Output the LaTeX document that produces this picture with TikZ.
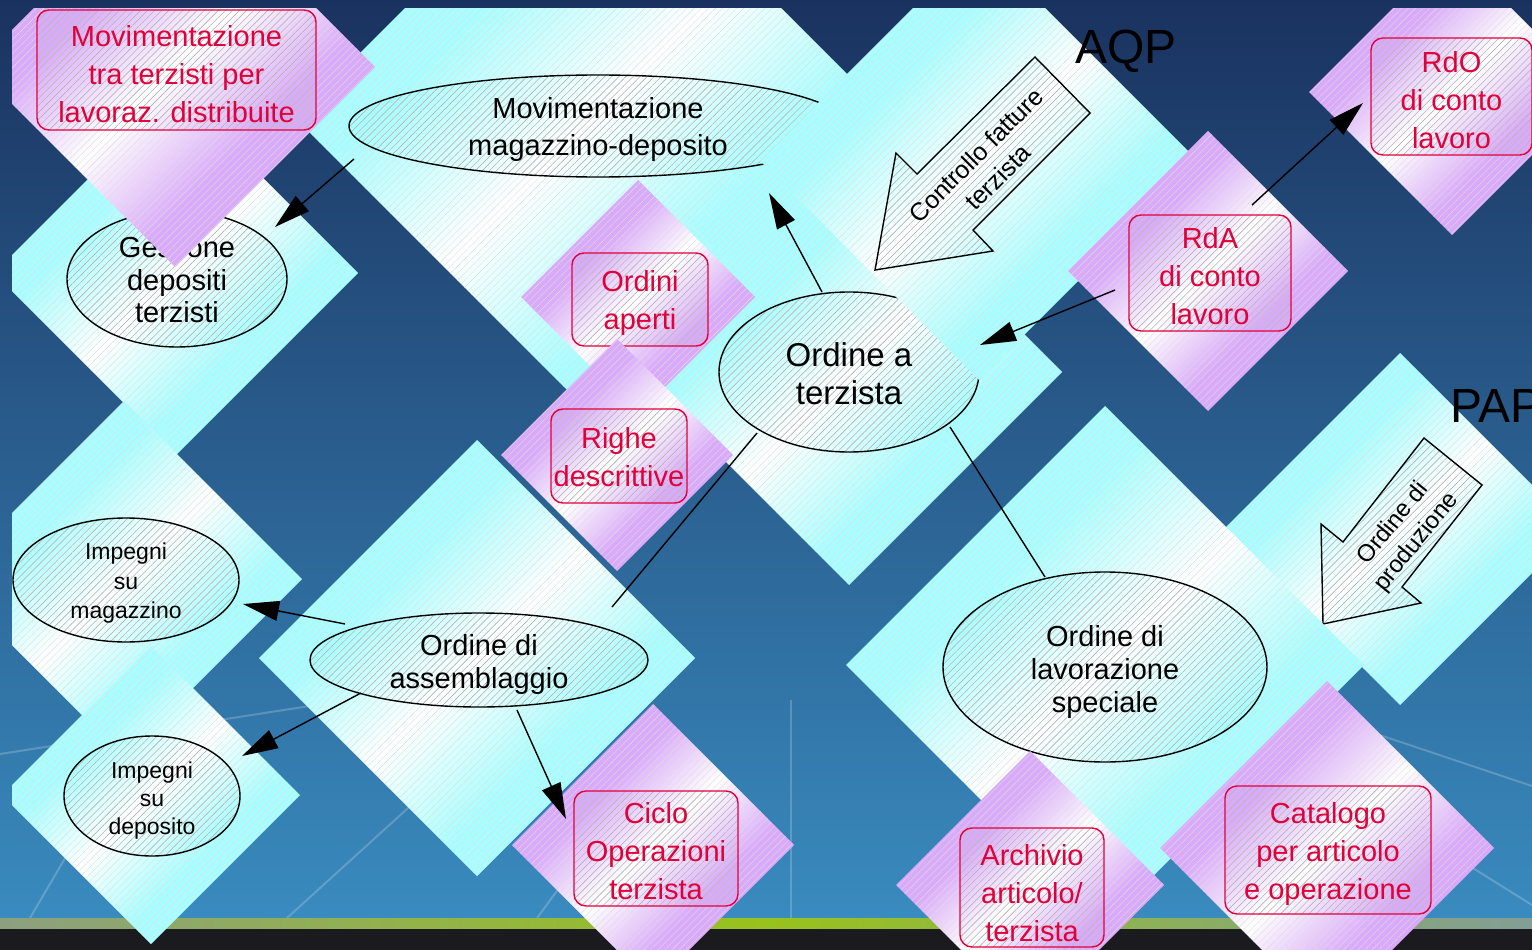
\documentclass[tikz,border=0pt]{standalone}
\usepackage{fontspec}
\setmainfont{Liberation Sans}
\usetikzlibrary{shapes.geometric,arrows.meta,patterns.meta}
\definecolor{cyc}{RGB}{168,255,255}
\definecolor{puc}{RGB}{218,170,250}
\definecolor{redc}{RGB}{226,0,58}
\definecolor{bgtop}{RGB}{26,50,95}
\definecolor{bgbot}{RGB}{58,140,192}
\definecolor{barc}{RGB}{27,26,31}
\definecolor{grl}{RGB}{140,160,128}
\definecolor{grm}{RGB}{152,194,28}
\definecolor{grr}{RGB}{130,158,150}
\pgfdeclareverticalshading{cyshade}{100bp}{color(0bp)=(cyc); color(37bp)=(cyc); color(50bp)=(white); color(63bp)=(cyc); color(100bp)=(cyc)}
\pgfdeclareverticalshading{pushade}{100bp}{color(0bp)=(puc); color(37bp)=(puc); color(50bp)=(white); color(63bp)=(puc); color(100bp)=(puc)}
\newcommand\fsR{\fontsize{29}{38}\selectfont}
\tikzset{
  hatchfine/.style={pattern={Lines[angle=45,distance=5pt,line width=0.4pt]}, pattern color=black!13},
  hatchdark/.style={pattern={Lines[angle=45,distance=5pt,line width=0.45pt]}, pattern color=black!32},
  diabase/.style={diamond, aspect=1, inner sep=0pt, outer sep=0pt, minimum size=#1, shade, shading angle=45, postaction={hatchfine}},
  cdia/.style={diabase=#1, shading=cyshade},
  pdia/.style={diabase=#1, shading=pushade},
  ell/.style={ellipse, draw=black, line width=1.4pt, inner sep=0pt, outer sep=0pt, preaction={hatchdark}},
  rbox/.style={rectangle, rounded corners=12pt, draw=redc, line width=1.4pt, inner sep=0pt, outer sep=0pt, preaction={hatchdark}},
  etxt/.style={align=center, inner sep=0pt, text=black},
  rtxt/.style={align=center, inner sep=0pt, text=redc, font=\fsR},
  conn/.style={line width=1.4pt, -{Triangle[length=36pt,width=20pt]}},
  plainline/.style={line width=1.4pt},
  bigarrow/.style={draw=black, line width=1.4pt, line join=miter, preaction={hatchdark}},
}
\begin{document}
\begin{tikzpicture}[x=1pt,y=-1pt]
\useasboundingbox (0,0) rectangle (1532,950);
\shade[top color=bgtop, bottom color=bgbot] (0,0) rectangle (1532,930);
\begin{scope}[white, opacity=0.2, line width=2pt]
 \draw (0,754) -- (600,661);
 \draw (30,918) -- (190,645);
 \draw (287,918) -- (560,670);
 \draw (537,918) -- (640,778);
 \draw (791,918) -- (791,700);
 \draw (1000,608) -- (1532,786);
 \draw (1300,760) -- (1532,905);
\end{scope}
\shade[left color=grl, right color=grr, middle color=grm] (0,918) rectangle (1532,929);
\fill[barc] (0,929) rectangle (1532,950);
\begin{scope}
\clip (12,9) rectangle (1532,950);
\node[cdia=596pt] (dB) at (593,118) {};
\node[ell, minimum width=498pt, minimum height=102pt] (nB) at (598,126) {};
\node[etxt, font=\fontsize{29}{37}\selectfont] (tB) at ([yshift=-4pt]nB.center) {Movimentazione\\magazzino-deposito};
\node[cdia=426pt] (dD) at (849,372) {};
\node[ell, minimum width=260pt, minimum height=160pt] (nD) at (849,372) {};
\node[etxt, font=\fontsize{33}{38}\selectfont] (tD) at ([yshift=-2pt]nD.center) {Ordine a\\terzista};
\node[cdia=438pt] (dC) at (979,161) {};
\path[bigarrow] (1035,57) -- (1090,113) -- (973,230) -- (993,251) -- (875,270) -- (896,153) -- (917,174) -- cycle;
\node[rotate=45, etxt, font=\fontsize{25}{31}\selectfont] (tC) at (987,166) {Controllo fatture\\terzista};
\node[pdia=234pt] (dOA) at (638,297) {};
\node[rbox, minimum width=136pt, minimum height=93pt] (nOA) at (640,299.5) {};
\node[rtxt] (tOA) at ([yshift=-3pt]nOA.center) {Ordini\\aperti};
\node[pdia=232pt] (dRD) at (617,455) {};
\node[rbox, minimum width=136pt, minimum height=94pt] (nRD) at (619,456) {};
\node[rtxt] (tRD) at ([yshift=-1pt]nRD.center) {Righe\\descrittive};
\node[cdia=364pt] (dA) at (176,273) {};
\node[ell, minimum width=220pt, minimum height=136pt] (nA) at (177,279) {};
\node[etxt, font=\fontsize{29}{32.5}\selectfont] (tA) at ([yshift=-1pt]nA.center) {Gestione\\depositi\\terzisti};
\node[pdia=400pt] (dP1) at (175,67) {};
\node[rbox, minimum width=279pt, minimum height=120pt] (nP1) at (176.5,70) {};
\node[rtxt] (tP1) at ([yshift=-4pt]nP1.center) {Movimentazione\\tra terzisti per\\lavoraz. distribuite};
\node[cdia=356pt] (dE) at (124,579) {};
\node[ell, minimum width=226pt, minimum height=124pt] (nE) at (126,580) {};
\node[etxt, font=\fontsize{23}{29.5}\selectfont] (tE) at ([yshift=-3.5pt]nE.center) {Impegni\\su\\magazzino};
\node[cdia=298pt] (dF) at (151,795) {};
\node[ell, minimum width=176pt, minimum height=120pt] (nF) at (152,796) {};
\node[etxt, font=\fontsize{23}{28}\selectfont] (tF) at ([yshift=-4.5pt]nF.center) {Impegni\\su\\deposito};
\node[cdia=436pt] (dG) at (477,658) {};
\node[ell, minimum width=338pt, minimum height=94pt] (nG) at (479,660) {};
\node[etxt, font=\fontsize{29}{33}\selectfont] (tG) at ([yshift=-4pt]nG.center) {Ordine di\\assemblaggio};
\node[pdia=282pt] (dCI) at (653,845) {};
\node[rbox, minimum width=164pt, minimum height=115pt] (nCI) at (656,848.5) {};
\node[rtxt] (tCI) at ([yshift=-3pt]nCI.center) {Ciclo\\Operazioni\\terzista};
\node[cdia=352pt] (dI) at (1400,529) {};
\path[bigarrow] (1424,438) -- (1482,485) -- (1402,587) -- (1421,603) -- (1323,624) -- (1321,524) -- (1343,542) -- cycle;
\node[rotate=51, etxt, font=\fontsize{24}{30}\selectfont] (tI) at (1405,533) {Ordine di\\produzione};
\node[cdia=518pt] (dH) at (1105,665) {};
\node[ell, minimum width=324pt, minimum height=190pt] (nH) at (1105,667) {};
\node[etxt, font=\fontsize{29}{33}\selectfont] (tH) at ([yshift=-5pt]nH.center) {Ordine di\\lavorazione\\speciale};
\node[pdia=268pt] (dAR) at (1030,885) {};
\node[rbox, minimum width=144pt, minimum height=119pt] (nAR) at (1032,887.5) {};
\node[rtxt] (tAR) at ([yshift=-6pt]nAR.center) {Archivio\\articolo/\\terzista};
\node[pdia=334pt] (dCA) at (1327,848) {};
\node[rbox, minimum width=206pt, minimum height=128pt] (nCA) at (1328,850) {};
\node[rtxt] (tCA) at ([yshift=-4pt]nCA.center) {Catalogo\\per articolo\\e operazione};
\node[pdia=280pt] (dRdA) at (1208,271) {};
\node[rbox, minimum width=162pt, minimum height=116pt] (nRdA) at (1210,273) {};
\node[rtxt] (tRdA) at ([yshift=-3pt]nRdA.center) {RdA\\di conto\\lavoro};
\node[pdia=286pt] (dRdO) at (1452,92) {};
\node[rbox, minimum width=161pt, minimum height=117pt] (nRdO) at (1451.5,96.5) {};
\node[rtxt] (tRdO) at ([yshift=-4pt]nRdO.center) {RdO\\di conto\\lavoro};
\end{scope}
\draw[conn] ([shift={(-244,33)}]nB.center) -- ([shift={(98,-52)}]nA.center);
\draw[conn] ([shift={(-27,-80)}]nD.center) -- ([shift={(171,67)}]nB.center);
\draw[conn] ([shift={(-95,17)}]nRdA.center) -- ([shift={(131,-27)}]nD.center);
\draw[conn] ([shift={(42,-68)}]nRdA.center) -- ([shift={(-88.5,6.5)}]nRdO.center);
\draw[plainline] ([shift={(-92,61)}]nD.center) -- ([shift={(133,-53)}]nG.center);
\draw[plainline] ([shift={(101,55)}]nD.center) -- ([shift={(-60,-90)}]nH.center);
\draw[conn] ([shift={(-134,-36)}]nG.center) -- ([shift={(117,24)}]nE.center);
\draw[conn] ([shift={(-118,33)}]nG.center) -- ([shift={(90,-40)}]nF.center);
\draw[conn] ([shift={(38,50)}]nG.center) -- ([shift={(-90,-29.5)}]nCI.center);
\node[anchor=base west, inner sep=0pt, font=\fontsize{48}{48}\selectfont] (tAQP) at (1075,64) {AQP};
\node[anchor=base west, inner sep=0pt, font=\fontsize{48}{48}\selectfont] (tPAP) at (1450,422) {PAP};
\end{tikzpicture}
\end{document}
